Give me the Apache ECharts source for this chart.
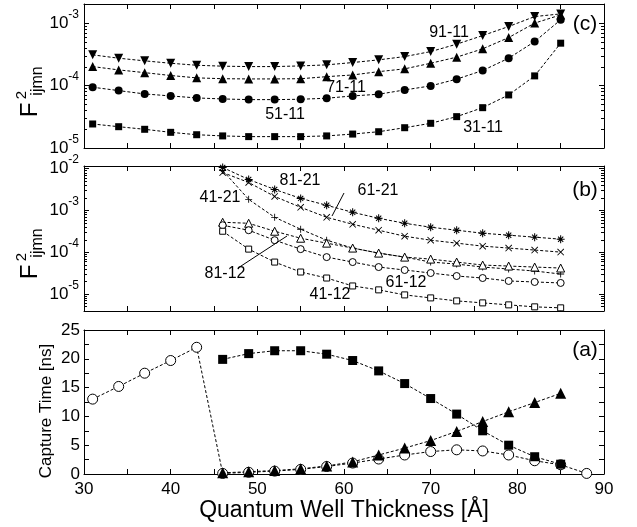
<!DOCTYPE html>
<html>
<head>
<meta charset="utf-8">
<script src="https://cdn.jsdelivr.net/npm/echarts@6/dist/echarts.min.js"></script>
<style>
html, body { margin: 0; padding: 0; background: #fff; }
#chart { width: 637px; height: 527px; }
</style>
</head>
<body>
<div id="chart"></div>
<script>
// thickness values (Å)
const thicknessC = [31, 34, 37, 40, 43, 46, 49, 52, 55, 58, 61, 64, 67, 70, 73, 76, 79, 82, 85];
const thicknessB = [46, 49, 52, 55, 58, 61, 64, 67, 70, 73, 76, 79, 82, 85];
const thicknessOpen = [31, 34, 37, 40, 43, 46, 49, 52, 55, 58, 61, 64, 67, 70, 73, 76, 79, 82, 85, 88];
const thicknessFilled = [46, 49, 52, 55, 58, 61, 64, 67, 70, 73, 76, 79, 82, 85];

// panel (c): F^2 for ijmn = x1-11
const f91_11 = [3.08e-4, 2.72e-4, 2.47e-4, 2.26e-4, 2.10e-4, 2.03e-4, 2.00e-4, 2.00e-4, 2.05e-4, 2.13e-4, 2.32e-4, 2.56e-4, 2.89e-4, 3.47e-4, 4.56e-4, 6.26e-4, 8.73e-4, 1.26e-3, 1.39e-3];
const f71_11 = [2.00e-4, 1.77e-4, 1.60e-4, 1.44e-4, 1.32e-4, 1.28e-4, 1.27e-4, 1.27e-4, 1.28e-4, 1.38e-4, 1.47e-4, 1.66e-4, 1.84e-4, 2.26e-4, 2.83e-4, 3.84e-4, 5.82e-4, 9.90e-4, 1.34e-3];
const f51_11 = [9.36e-5, 8.26e-5, 7.31e-5, 6.79e-5, 6.31e-5, 6.08e-5, 5.93e-5, 5.93e-5, 6.01e-5, 6.24e-5, 6.79e-5, 7.23e-5, 8.47e-5, 9.82e-5, 1.26e-4, 1.73e-4, 2.72e-4, 5.02e-4, 1.12e-3];
const f31_11 = [2.42e-5, 2.19e-5, 1.99e-5, 1.78e-5, 1.63e-5, 1.56e-5, 1.52e-5, 1.52e-5, 1.52e-5, 1.56e-5, 1.67e-5, 1.82e-5, 2.11e-5, 2.48e-5, 3.17e-5, 4.41e-5, 7.05e-5, 1.42e-4, 4.73e-4];

// panel (b)
const f81_21 = [1.06e-2, 5.47e-3, 3.16e-3, 1.93e-3, 1.32e-3, 8.96e-4, 6.45e-4, 4.90e-4, 3.94e-4, 3.34e-4, 2.83e-4, 2.54e-4, 2.28e-4, 2.04e-4];
const f61_21 = [8.03e-3, 4.64e-3, 2.15e-3, 1.18e-3, 6.81e-4, 4.64e-4, 3.34e-4, 2.40e-4, 1.93e-4, 1.64e-4, 1.39e-4, 1.25e-4, 1.12e-4, 1.00e-4];
const f41_21 = [8.96e-3, 1.83e-3, 6.81e-4, 3.53e-4, 1.93e-4, 1.25e-4, 9.47e-5, 7.60e-5, 5.78e-5, 5.18e-5, 4.39e-5, 3.94e-5, 3.53e-5, 2.99e-5];
const f81_12 = [5.18e-4, 4.90e-4, 3.16e-4, 2.15e-4, 1.64e-4, 1.25e-4, 9.47e-5, 7.60e-5, 6.81e-5, 5.78e-5, 4.90e-5, 4.64e-5, 4.39e-5, 4.16e-5];
const f61_12 = [4.39e-4, 3.34e-4, 1.93e-4, 1.18e-4, 7.60e-5, 5.78e-5, 4.39e-5, 3.73e-5, 3.16e-5, 2.68e-5, 2.40e-5, 2.04e-5, 1.93e-5, 1.83e-5];
const f41_12 = [3.16e-4, 1.18e-4, 5.78e-5, 3.34e-5, 2.40e-5, 1.55e-5, 1.25e-5, 9.47e-6, 8.03e-6, 6.81e-6, 6.10e-6, 5.47e-6, 4.90e-6, 4.64e-6];

// panel (a): capture time [ns]
const tauOpen = [13.0, 15.2, 17.5, 19.7, 22.0, 0.1, 0.3, 0.5, 0.8, 1.3, 1.9, 2.6, 3.3, 3.9, 4.2, 4.0, 3.3, 2.3, 1.6, 0.1];
const tauSquare = [19.9, 20.9, 21.4, 21.4, 20.8, 19.7, 17.9, 15.7, 13.1, 10.4, 7.5, 5.0, 3.0, 1.7];
const tauTriangle = [0.2, 0.4, 0.6, 0.9, 1.4, 2.1, 3.3, 4.5, 5.8, 7.4, 9.1, 10.8, 12.4, 14.0];

const FONT = 'Liberation Sans, Arial, Helvetica, sans-serif';

// marker shapes (asterisk, cross, plus) as filled thin bars
const STAR = 'path://M-1,-0.13H1V0.13H-1Z M-0.13,-1H0.13V1H-0.13Z M-0.74,-0.56L-0.56,-0.74L0.74,0.56L0.56,0.74Z M0.74,-0.56L-0.56,0.74L-0.74,0.56L0.56,-0.74Z';
const CROSS = 'path://M-1,-0.82L-0.82,-1L1,0.82L0.82,1Z M1,-0.82L-0.82,1L-1,0.82L0.82,-1Z';
const PLUS = 'path://M-1,-0.12H1V0.12H-1Z M-0.12,-1H0.12V1H-0.12Z';

function zip(xs, ys) {
  return xs.map((x, i) => [x, ys[i]]);
}

function powLabel(v) {
  const e = Math.log10(v);
  const r = Math.round(e);
  if (Math.abs(e - r) > 1e-3) return '';
  return '{b|10}{s|' + r + '}';
}

// minor log tick values 2..9 x 10^d inside a range
function logMinor(lo, hi) {
  const out = [];
  for (let d = -7; d <= -1; d++) {
    for (let m = 2; m <= 9; m++) {
      const v = m * Math.pow(10, d);
      if (v > lo && v < hi) out.push(v);
    }
  }
  return out;
}

const grids = [
  { left: 84, top: 4, width: 520, height: 144 },
  { left: 84, top: 166, width: 520, height: 145 },
  { left: 84, top: 330, width: 520, height: 144 }
];

const axisLine = { show: true, onZero: false, lineStyle: { color: '#000', width: 1 } };
const tick = { show: true, inside: true, length: 5, lineStyle: { color: '#000' } };
const minor = { show: true, splitNumber: 2, length: 5, lineStyle: { color: '#000' } };

const xAxis = [];
const yAxis = [];
for (let g = 0; g < 3; g++) {
  ['bottom', 'top'].forEach(pos => {
    xAxis.push({
      type: 'value', gridIndex: g, position: pos, min: 30, max: 90, interval: 10,
      axisLine: axisLine, axisTick: tick, minorTick: minor, splitLine: { show: false },
      axisLabel: {
        show: g === 2 && pos === 'bottom', margin: 7,
        fontFamily: FONT, fontSize: 17, color: '#000'
      }
    });
  });
}

const logRich = {
  b: { fontFamily: FONT, fontSize: 17, color: '#000', padding: [6, 0, 0, 0] },
  s: { fontFamily: FONT, fontSize: 12, color: '#000', verticalAlign: 'top' }
};
const logRanges = [[1e-5, 2.0e-3], [3.9e-6, 1.15e-2]];
for (let g = 0; g < 2; g++) {
  ['left', 'right'].forEach(pos => {
    yAxis.push({
      type: 'log', logBase: 10, gridIndex: g, position: pos,
      min: logRanges[g][0], max: logRanges[g][1],
      axisLine: axisLine, axisTick: tick, splitLine: { show: false },
      axisLabel: {
        show: pos === 'left', margin: 5, formatter: powLabel, rich: logRich,
        padding: [0, 0, 6, 0]
      }
    });
  });
}
['left', 'right'].forEach(pos => {
  yAxis.push({
    type: 'value', gridIndex: 2, position: pos, min: 0, max: 25, interval: 5,
    axisLine: axisLine, axisTick: tick, minorTick: minor, splitLine: { show: false },
    axisLabel: { show: pos === 'left', margin: 4, fontFamily: FONT, fontSize: 17, color: '#000' }
  });
});

const dotted = { color: '#000', width: 1, type: [3, 2] };

function line(name, data, g, symbol, size, open, extra) {
  return Object.assign({
    name: name, type: 'line', data: data,
    xAxisIndex: g * 2, yAxisIndex: g * 2,
    symbol: symbol, symbolSize: size, showSymbol: true,
    lineStyle: dotted,
    itemStyle: open
      ? { color: '#fff', borderColor: '#000', borderWidth: 1 }
      : { color: '#000', borderWidth: 0 },
    emphasis: { disabled: true },
    clip: false
  }, extra || {});
}

const series = [
  // (c)
  line('91-11', zip(thicknessC, f91_11), 0, 'triangle', 9, false, { symbolRotate: 180 }),
  line('71-11', zip(thicknessC, f71_11), 0, 'triangle', 9, false),
  line('51-11', zip(thicknessC, f51_11), 0, 'circle', 8, false),
  line('31-11', zip(thicknessC, f31_11), 0, 'rect', 7, false),
  // (b)
  line('81-21', zip(thicknessB, f81_21), 1, STAR, 8, false),
  line('61-21', zip(thicknessB, f61_21), 1, CROSS, 7, false),
  line('41-21', zip(thicknessB, f41_21), 1, PLUS, 7, false),
  line('81-12', zip(thicknessB, f81_12), 1, 'triangle', 8, true),
  line('61-12', zip(thicknessB, f61_12), 1, 'circle', 7, true),
  line('41-12', zip(thicknessB, f41_12), 1, 'rect', 6, true),
  // (a)
  line('open', zip(thicknessOpen, tauOpen), 2, 'circle', 10, true),
  line('triangle', zip(thicknessFilled, tauTriangle), 2, 'triangle', 11, false),
  line('square', zip(thicknessFilled, tauSquare), 2, 'rect', 9, false)
];

function txt(x, y, s, size, extra) {
  return Object.assign({
    type: 'text', x: x, y: y, silent: true,
    style: { text: s, fontFamily: FONT, fontSize: size, fill: '#000', align: 'center', verticalAlign: 'middle' }
  }, extra || {});
}

function vtxt(x, y, s, size) {
  return txt(x, y, s, size, { rotation: Math.PI / 2 });
}

function seg(x1, y1, x2, y2) {
  return { type: 'line', silent: true, z: 10, shape: { x1: x1, y1: y1, x2: x2, y2: y2 }, style: { stroke: '#000', lineWidth: 1 } };
}

// minor ticks of the log axes: a short segment per value, positioned through the log axis
function minorTickLines(chart) {
  const out = [];
  for (let g = 0; g < 2; g++) {
    const left = grids[g].left;
    const right = grids[g].left + grids[g].width;
    logMinor(logRanges[g][0], logRanges[g][1]).forEach(v => {
      const p = chart.convertToPixel({ xAxisIndex: g * 2, yAxisIndex: g * 2 }, [30, v]);
      if (!p || !isFinite(p[1])) return;
      const y = Math.round(p[1]) + 0.5;
      out.push(seg(left, y, left + 3, y));
      out.push(seg(right - 3, y, right, y));
    });
  }
  return out;
}

const graphic = [
  txt(585, 24, '(c)', 21),
  txt(585, 190, '(b)', 21),
  txt(585, 350, '(a)', 21),
  // (c) labels
  txt(449, 33, '91-11', 16),
  txt(346, 88, '71-11', 16),
  txt(285, 115, '51-11', 16),
  txt(483, 128, '31-11', 16),
  // (b) labels
  txt(300, 181, '81-21', 16),
  txt(220, 198, '41-21', 16),
  txt(378, 191, '61-21', 16),
  txt(225, 274, '81-12', 16),
  txt(330, 295, '41-12', 16),
  txt(406, 283, '61-12', 16),
  seg(332, 216, 344, 193),
  seg(238, 268, 287, 236),
  // y titles
  vtxt(30, 110, 'F', 24), vtxt(22, 95, '2', 15), vtxt(38, 81, 'ijmn', 16),
  vtxt(30, 272, 'F', 24), vtxt(22, 257, '2', 15), vtxt(38, 243, 'ijmn', 16),
  vtxt(46, 411, 'Capture Time [ns]', 17),
  // x title
  txt(344, 511, 'Quantum Well Thickness [Å]', 23)
];

const chart = echarts.init(document.getElementById('chart'));
chart.setOption({
  animation: false,
  backgroundColor: '#fff',
  grid: grids,
  xAxis: xAxis,
  yAxis: yAxis,
  series: series,
  graphic: graphic
});
chart.setOption({ graphic: graphic.concat(minorTickLines(chart)) }, { replaceMerge: ['graphic'] });
</script>
</body>
</html>
